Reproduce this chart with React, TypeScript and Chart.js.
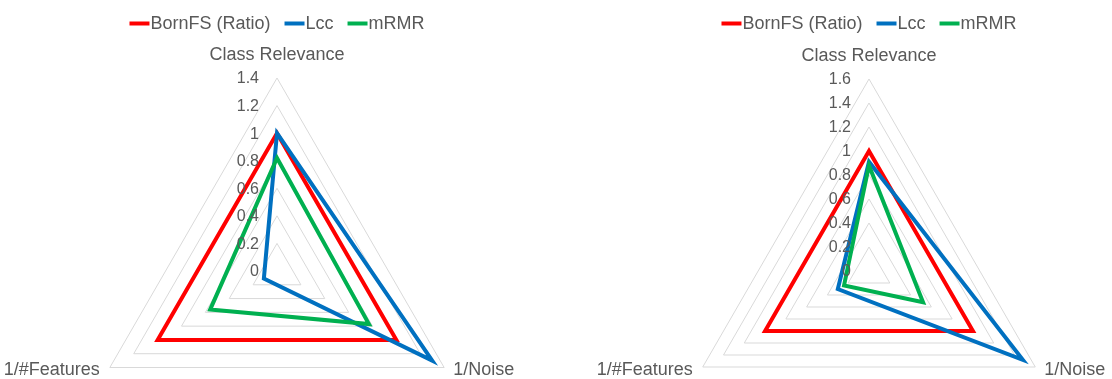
import React, { useEffect, useRef } from 'react';
import { Chart, registerables } from 'chart.js';

Chart.register(...registerables);
Chart.defaults.font.family = '"Liberation Sans", Arial, sans-serif';

// ---- data ----
const categories = ['Class Relevance', '1/Noise', '1/#Features'];
const seriesNames = ['BornFS (Ratio)', 'Lcc', 'mRMR'];
const seriesColors = ['#FF0000', '#0070C0', '#00B050'];

const leftBornFS = [1.0, 1.0, 1.0];
const leftLcc = [1.0, 1.3, 0.11];
const leftMRMR = [0.82, 0.77, 0.56];
const leftTickValues = [0, 0.2, 0.4, 0.6, 0.8, 1, 1.2, 1.4];
const leftTickLabels = ['0', '0.2', '0.4', '0.6', '0.8', '1', '1.2', '1.4'];

const rightBornFS = [1.0, 1.0, 1.0];
const rightLcc = [0.91, 1.48, 0.3];
const rightMRMR = [0.88, 0.52, 0.24];
const rightTickValues = [0, 0.2, 0.4, 0.6, 0.8, 1, 1.2, 1.4, 1.6];
const rightTickLabels = ['0', '0.2', '0.4', '0.6', '0.8', '1', '1.2', '1.4', '1.6'];

const CANVAS_W = 556;
const CANVAS_H = 470;
const TEXT_COLOR = '#595959';

type RadarProps = {
  series: number[][];
  tickValues: number[];
  tickLabels: string[];
  max: number;
  offsetX: number;
  centerX: number;
  centerY: number;
  radius: number;
};

function Radar(p: RadarProps) {
  const ref = useRef<HTMLCanvasElement>(null);

  useEffect(() => {
    if (!ref.current) return;
    const overlay = {
      id: 'overlay',
      afterDatasetsDraw(chart: any) {
        const scale = chart.scales.r;
        const ctx = chart.ctx as CanvasRenderingContext2D;
        const cx = scale.xCenter;
        const cy = scale.yCenter;
        ctx.save();

        // tick labels (left of the vertical axis)
        ctx.font = '16px "Liberation Sans"';
        ctx.fillStyle = TEXT_COLOR;
        ctx.textAlign = 'right';
        ctx.textBaseline = 'middle';
        p.tickValues.forEach((v, i) => {
          const y = cy - scale.getDistanceFromCenterForValue(v);
          ctx.fillText(p.tickLabels[i], cx - 18, y + 1);
        });

        // point (category) labels
        ctx.font = '18px "Liberation Sans"';
        categories.forEach((label, i) => {
          const pt = scale.getPointPosition(i, scale.drawingArea);
          if (i === 0) {
            ctx.textAlign = 'center';
            ctx.fillText(label, pt.x, pt.y - 23);
          } else if (i === 1) {
            ctx.textAlign = 'left';
            ctx.fillText(label, pt.x + 9, pt.y + 3);
          } else {
            ctx.textAlign = 'right';
            ctx.fillText(label, pt.x - 10, pt.y + 3);
          }
        });

        // legend
        const lineW = 20;
        const gap = 1;
        const itemGap = 14;
        const widths = seriesNames.map((n) => ctx.measureText(n).width);
        const total =
          widths.reduce((a, w) => a + lineW + gap + w, 0) + itemGap * (seriesNames.length - 1);
        let x = cx - total / 2;
        const ly = 24;
        ctx.textAlign = 'left';
        seriesNames.forEach((n, i) => {
          ctx.strokeStyle = seriesColors[i];
          ctx.lineWidth = 4;
          ctx.lineCap = 'butt';
          ctx.beginPath();
          ctx.moveTo(x, ly - 0.5);
          ctx.lineTo(x + lineW, ly - 0.5);
          ctx.stroke();
          ctx.fillStyle = TEXT_COLOR;
          ctx.fillText(n, x + lineW + gap, ly);
          x += lineW + gap + widths[i] + itemGap;
        });

        ctx.restore();
      },
    };

    const left = p.centerX - p.radius;
    const top = p.centerY - p.radius;
    const chart = new Chart(ref.current, {
      type: 'radar',
      data: {
        labels: categories,
        datasets: p.series.map((d, i) => ({
          label: seriesNames[i],
          data: d,
          borderColor: seriesColors[i],
          backgroundColor: 'transparent',
          borderWidth: 4,
          pointRadius: 0,
          fill: false,
          order: p.series.length - i,
        })),
      },
      options: {
        responsive: true,
        maintainAspectRatio: false,
        animation: false,
        events: [],
        layout: {
          padding: {
            left,
            right: CANVAS_W - left - 2 * p.radius,
            top,
            bottom: CANVAS_H - top - 2 * p.radius,
          },
        },
        plugins: {
          legend: { display: false },
          tooltip: { enabled: false },
        },
        scales: {
          r: {
            min: 0,
            max: p.max,
            ticks: { display: false, stepSize: 0.2 },
            pointLabels: { display: false },
            angleLines: { display: false },
            grid: { color: '#d9d9d9', lineWidth: 1 },
          },
        },
      },
      plugins: [overlay],
    } as any);
    return () => chart.destroy();
  }, []);

  return (
    <div
      style={{
        position: 'absolute',
        left: p.offsetX,
        top: 0,
        width: CANVAS_W,
        height: CANVAS_H,
      }}
    >
      <canvas ref={ref} />
    </div>
  );
}

export default function App() {
  return (
    <div
      style={{
        position: 'absolute',
        left: 0,
        top: 0,
        width: 1112,
        height: 379,
        overflow: 'hidden',
        background: '#ffffff',
      }}
    >
      <Radar
        series={[leftBornFS, leftLcc, leftMRMR]}
        tickValues={leftTickValues}
        tickLabels={leftTickLabels}
        max={1.4}
        offsetX={0}
        centerX={277}
        centerY={271}
        radius={193}
      />
      <Radar
        series={[rightBornFS, rightLcc, rightMRMR]}
        tickValues={rightTickValues}
        tickLabels={rightTickLabels}
        max={1.6}
        offsetX={556}
        centerX={313}
        centerY={271}
        radius={192}
      />
    </div>
  );
}
